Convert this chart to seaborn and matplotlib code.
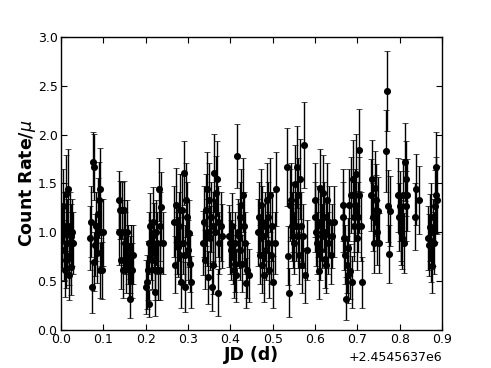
#%%     Imports
import numpy as np
import pandas as pd
import matplotlib
matplotlib.use("Agg")
import matplotlib.pyplot as plt
from matplotlib.ticker import ScalarFormatter, MultipleLocator
import seaborn as sns


#%%     Data (JD - 2454563.7)

jd_zero = 2454563.7

jd_offset = [
    # night 1
    0.003, 0.005, 0.006, 0.008, 0.009, 0.011, 0.012, 0.014, 0.015, 0.017, 0.018, 0.020, 0.021, 0.023, 0.024, 0.026, 0.028,
    # 2
    0.069, 0.071, 0.073, 0.075, 0.077, 0.079, 0.081, 0.083, 0.085, 0.087, 0.089, 0.091, 0.093, 0.095, 0.097, 0.099,
    # 3
    0.136, 0.138, 0.140, 0.142, 0.144, 0.146, 0.148, 0.150, 0.152, 0.154, 0.156, 0.158, 0.160, 0.162, 0.164, 0.166, 0.168, 0.170,
    # 4
    0.201, 0.203, 0.205, 0.207, 0.209, 0.211, 0.213, 0.215, 0.217, 0.219, 0.221, 0.223, 0.225, 0.227, 0.229, 0.231, 0.233, 0.235, 0.237, 0.240,
    # 5
    0.268, 0.270, 0.272, 0.274, 0.276, 0.278, 0.280, 0.282, 0.284, 0.286, 0.288, 0.290, 0.292, 0.294, 0.296, 0.298, 0.300, 0.302, 0.305, 0.308,
    # 6
    0.336, 0.338, 0.340, 0.342, 0.344, 0.346, 0.348, 0.350, 0.352, 0.354, 0.356, 0.358, 0.360, 0.362, 0.364, 0.366, 0.368, 0.370, 0.372, 0.374, 0.377, 0.380,
    # 7
    0.398, 0.400, 0.402, 0.404, 0.406, 0.408, 0.410, 0.412, 0.414, 0.416, 0.418, 0.420, 0.422, 0.424, 0.426, 0.428, 0.430, 0.432, 0.434, 0.436, 0.439, 0.443,
    # 8
    0.466, 0.468, 0.470, 0.472, 0.474, 0.476, 0.478, 0.480, 0.482, 0.484, 0.486, 0.488, 0.490, 0.492, 0.494, 0.496, 0.498, 0.501, 0.505, 0.508,
    # 9
    0.535, 0.537, 0.539, 0.541, 0.543, 0.545, 0.547, 0.549, 0.551, 0.553, 0.555, 0.557, 0.559, 0.561, 0.563, 0.565, 0.567, 0.569, 0.571, 0.574, 0.577, 0.580,
    # 10
    0.599, 0.601, 0.603, 0.605, 0.607, 0.609, 0.611, 0.613, 0.615, 0.617, 0.619, 0.621, 0.623, 0.625, 0.627, 0.629, 0.631, 0.634, 0.637, 0.641, 0.645,
    # 11
    0.665, 0.667, 0.669, 0.671, 0.673, 0.675, 0.677, 0.679, 0.681, 0.683, 0.685, 0.687, 0.689, 0.691, 0.693, 0.695, 0.697, 0.699, 0.701, 0.703, 0.705, 0.708, 0.712,
    # 12
    0.733, 0.735, 0.737, 0.739, 0.741, 0.743, 0.745, 0.747, 0.749, 0.751, 0.768, 0.770, 0.772, 0.774, 0.778,
    # 13
    0.796, 0.798, 0.800, 0.802, 0.804, 0.806, 0.808, 0.810, 0.812, 0.814, 0.816, 0.818,
    # 14
    0.836, 0.838, 0.846,
    # 15
    0.867, 0.869, 0.871, 0.873, 0.875, 0.877, 0.879, 0.881, 0.883, 0.885, 0.887, 0.889,
]

rate = [
    0.96, 1.27, 0.82, 1.06, 0.61, 1.39, 0.72, 1.00, 0.89, 1.44, 0.56, 0.76, 1.06, 0.65, 0.96, 1.00, 0.89,
    0.94, 1.11, 0.44, 1.72, 0.70, 1.67, 0.87, 1.06, 0.79, 1.19, 1.33, 0.61, 1.44, 1.00, 0.61, 1.00,
    1.33, 1.00, 1.23, 0.72, 1.23, 0.61, 1.23, 1.00, 0.89, 0.67, 1.00, 0.77, 0.61, 0.67, 0.32, 0.77, 0.61, 0.77,
    0.44, 0.49, 0.61, 0.27, 0.89, 1.06, 0.82, 0.72, 1.11, 0.97, 0.61, 0.39, 1.00, 0.89, 0.61, 1.44, 1.06, 0.61, 1.26, 0.89,
    1.11, 0.67, 1.28, 0.89, 0.85, 1.06, 1.23, 0.77, 0.49, 1.23, 0.89, 1.61, 0.77, 0.44, 1.33, 1.16, 0.82, 0.99, 0.68, 0.49,
    0.89, 1.11, 0.72, 1.23, 1.00, 1.44, 0.54, 1.33, 0.94, 1.16, 0.44, 1.06, 0.67, 1.61, 1.00, 1.40, 1.55, 1.11, 0.38, 0.89, 1.06, 0.96,
    0.96, 0.89, 0.82, 1.06, 0.77, 0.61, 0.68, 0.89, 0.56, 1.78, 1.00, 0.96, 1.16, 0.82, 1.28, 0.68, 1.38, 1.06, 0.89, 0.48, 0.61, 0.56,
    1.00, 1.16, 0.77, 1.28, 0.67, 1.11, 0.96, 0.56, 1.06, 0.82, 1.33, 0.89, 1.16, 0.61, 1.38, 0.77, 1.06, 0.49, 0.89, 1.44,
    1.67, 0.76, 0.38, 1.28, 1.33, 1.06, 0.96, 1.16, 0.89, 1.49, 1.06, 1.67, 0.96, 1.38, 0.77, 1.55, 1.06, 0.67, 0.96, 1.89, 0.56, 0.82,
    1.16, 1.33, 1.00, 0.89, 1.11, 0.60, 1.45, 0.82, 1.06, 0.96, 1.40, 1.16, 0.73, 1.00, 0.67, 1.33, 0.89, 1.11, 0.77, 0.96, 1.11,
    1.28, 1.16, 0.94, 0.77, 0.32, 0.67, 0.56, 0.84, 1.28, 0.60, 1.38, 0.49, 1.55, 1.16, 1.06, 1.28, 1.60, 0.94, 1.16, 1.38, 1.84, 1.06, 0.49,
    1.38, 1.55, 1.16, 0.89, 1.45, 1.23, 1.33, 1.00, 1.22, 0.89, 1.83, 2.45, 1.27, 0.78, 1.22,
    1.38, 1.16, 1.27, 1.00, 1.05, 0.94, 1.38, 0.89, 1.72, 1.55, 1.27, 1.38,
    1.16, 1.44, 1.33,
    0.94, 0.87, 1.05, 0.79, 1.16, 0.66, 1.00, 0.89, 1.27, 1.38, 1.67, 1.33,
]

rate_err = [
    0.33, 0.38, 0.31, 0.35, 0.27, 0.40, 0.29, 0.34, 0.32, 0.41, 0.25, 0.30, 0.35, 0.29, 0.33, 0.34, 0.32,
    0.33, 0.36, 0.27, 0.31, 0.30, 0.34, 0.32, 0.35, 0.31, 0.37, 0.39, 0.28, 0.42, 0.34, 0.29, 0.34,
    0.30, 0.33, 0.30, 0.30, 0.29, 0.28, 0.30, 0.33, 0.32, 0.29, 0.33, 0.30, 0.28, 0.29, 0.20, 0.30, 0.28, 0.30,
    0.28, 0.28, 0.30, 0.14, 0.32, 0.34, 0.31, 0.30, 0.35, 0.33, 0.30, 0.25, 0.33, 0.32, 0.30, 0.32, 0.35, 0.30, 0.36, 0.32,
    0.36, 0.29, 0.38, 0.32, 0.31, 0.35, 0.37, 0.30, 0.27, 0.37, 0.32, 0.33, 0.30, 0.26, 0.38, 0.36, 0.31, 0.34, 0.29, 0.27,
    0.33, 0.36, 0.30, 0.37, 0.34, 0.38, 0.27, 0.38, 0.33, 0.36, 0.25, 0.35, 0.30, 0.40, 0.34, 0.38, 0.38, 0.36, 0.24, 0.32, 0.35, 0.33,
    0.32, 0.32, 0.31, 0.34, 0.30, 0.28, 0.29, 0.32, 0.27, 0.33, 0.34, 0.33, 0.36, 0.31, 0.37, 0.29, 0.38, 0.35, 0.32, 0.26, 0.28, 0.27,
    0.34, 0.36, 0.30, 0.37, 0.29, 0.36, 0.33, 0.27, 0.35, 0.31, 0.38, 0.32, 0.36, 0.28, 0.38, 0.30, 0.35, 0.27, 0.32, 0.38,
    0.40, 0.30, 0.25, 0.37, 0.38, 0.35, 0.33, 0.36, 0.32, 0.40, 0.35, 0.42, 0.33, 0.38, 0.30, 0.41, 0.35, 0.29, 0.33, 0.44, 0.28, 0.31,
    0.36, 0.38, 0.34, 0.32, 0.36, 0.28, 0.40, 0.31, 0.35, 0.33, 0.39, 0.36, 0.30, 0.34, 0.29, 0.38, 0.32, 0.36, 0.30, 0.33, 0.36,
    0.37, 0.36, 0.33, 0.30, 0.22, 0.29, 0.28, 0.31, 0.37, 0.28, 0.39, 0.27, 0.40, 0.36, 0.35, 0.37, 0.41, 0.33, 0.36, 0.39, 0.42, 0.35, 0.26,
    0.37, 0.40, 0.35, 0.31, 0.38, 0.36, 0.37, 0.33, 0.35, 0.31, 0.42, 0.41, 0.37, 0.30, 0.36,
    0.38, 0.35, 0.36, 0.33, 0.34, 0.32, 0.37, 0.31, 0.40, 0.38, 0.36, 0.37,
    0.34, 0.36, 0.35,
    0.33, 0.32, 0.34, 0.30, 0.35, 0.28, 0.34, 0.32, 0.37, 0.39, 0.36, 0.35,
]

df = pd.DataFrame({"jd": np.array(jd_offset) + jd_zero, "rate": rate, "err": rate_err})


#%%     Plot
sns.set_style("ticks", {"xtick.direction": "in", "ytick.direction": "in",
                        "axes.edgecolor": "black", "xtick.color": "black",
                        "ytick.color": "black", "axes.labelcolor": "black",
                        "text.color": "black"})
plt.rcParams["font.family"] = ["DejaVu Sans"]

fig = plt.figure(figsize=(4.91, 3.68), dpi=100)
ax = fig.add_axes([0.1242, 0.1033, 0.776, 0.7962])

ax.errorbar(df["jd"], df["rate"], yerr=df["err"], fmt="none", ecolor="black",
            elinewidth=1.0, capsize=2, capthick=0.5, zorder=2)
sns.scatterplot(data=df, x="jd", y="rate", color="black", s=26,
                edgecolor="black", linewidth=0, ax=ax, zorder=3)

ax.set_xlim(jd_zero, jd_zero + 0.9)
ax.set_ylim(0, 3.0)
ax.xaxis.set_major_locator(MultipleLocator(0.1))
ax.yaxis.set_major_locator(MultipleLocator(0.5))
fmt = ScalarFormatter(useOffset=jd_zero)
ax.xaxis.set_major_formatter(fmt)

ax.tick_params(which="both", top=True, right=True, length=4, width=0.8,
               labelsize=9, pad=2.5, labelcolor="black")
ax.xaxis.get_offset_text().set_fontsize(9)
ax.xaxis.get_offset_text().set_color("black")
for sp in ax.spines.values():
    sp.set_linewidth(1.0)

ax.set_xlabel("JD (d)", fontsize=12.5, fontweight="bold", labelpad=0, color="black")
ax.set_ylabel(r"Count Rate/$\mu$", fontsize=12.5, fontweight="bold", labelpad=0, color="black")

fig.savefig("out.png", dpi=100)
